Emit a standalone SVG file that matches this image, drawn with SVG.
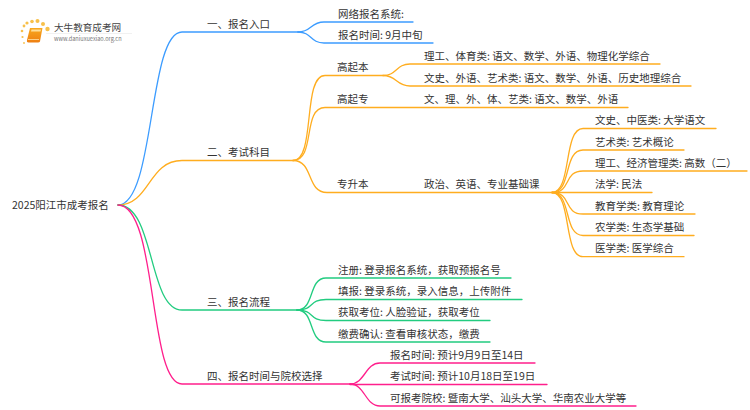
<svg xmlns="http://www.w3.org/2000/svg" width="750" height="410" viewBox="0 0 750 410">
<defs><linearGradient id="bk" x1="0" y1="0" x2="0" y2="1"><stop offset="0" stop-color="#f8a91f"/><stop offset="1" stop-color="#ee7f12"/></linearGradient></defs>
<style>
text{font-family:"Noto Sans CJK SC","Noto Sans",sans-serif;font-size:10.5px;fill:#333}
.c path{fill:none;stroke-width:1.3;stroke-linecap:round}
.b path{stroke:#3c9cff}.o path{stroke:#ffad1f}.g path{stroke:#22cc80}.p path{stroke:#ff1f8c}
</style>
<rect width="750" height="410" fill="#fff"/>
<g id="logo">
<g fill="#f7c04a"><circle cx="24" cy="26" r="1.4"/><circle cx="27" cy="23" r="1.6"/><circle cx="32" cy="21.500" r="1.800"/><circle cx="37.500" cy="21" r="2"/><circle cx="43" cy="24" r="2"/><circle cx="47.500" cy="29" r="2.200"/><circle cx="22" cy="31" r="1.300"/><circle cx="22.500" cy="37" r="1.100"/><circle cx="24" cy="43" r="0.900"/></g>
<path d="M30 28H42.500L40 41.500Q39.500 42.500 38 42.500H28.500Q26.500 42.500 27 40Z" fill="url(#bk)"/><path d="M31.500 29.500H41L40.500 31.500H31Z" fill="#ffdf9a"/><path d="M28 39.500H39" stroke="#ffe2a8" stroke-width="0.800"/>
<path d="M46 33.500H132" stroke="#e8e8e8" stroke-width="0.600"/>
<text x="54" y="30.500" style="font-size:9.600px;fill:#444">大牛教育成考网</text>
<text x="54" y="41" style="font-size:5.600px;fill:#777">www.daniuxuexiao.org.cn</text>
</g>
<g id="connectors" class="c">
<g class="b"><path d="M118 205C155 205 148 32 182 32H298"/><path d="M298 32C312 32 310 22 324 22H413"/><path d="M298 32C312 32 310 43 324 43H433"/></g>
<g class="o"><path d="M118 205C150 205 148 160.500 182 160.500H293"/><path d="M293 160.500C316 160.500 302 75.500 325 75.500H383"/><path d="M293 160.500C316 160.500 302 107.500 325 107.500H628"/><path d="M293 160.500C314 160.500 306 192.500 327 192.500H552"/><path d="M383 75.500C397 75.500 396 64 410 64H660"/><path d="M383 75.500C397 75.500 396 86 410 86H691"/>
<path d="M552 192.500C572 192.500 563 128.500 583 128.500H716"/><path d="M552 192.500C572 192.500 563 150 583 150H684"/><path d="M552 192.500C572 192.500 563 171 583 171H747"/><path d="M552 192.500H652"/><path d="M552 192.500C572 192.500 563 214 583 214H695"/><path d="M552 192.500C572 192.500 563 235.500 583 235.500H694"/><path d="M552 192.500C572 192.500 563 256.700 583 256.700H684"/></g>
<g class="g"><path d="M118 205C155 205 148 310 182 310H297"/><path d="M297 310C315 310 308 278 326 278H511"/><path d="M297 310C315 310 308 299.500 326 299.500H522"/><path d="M297 310C315 310 308 320.500 326 320.500H490"/><path d="M297 310C315 310 308 342 326 342H490"/></g>
<g class="p"><path d="M118 205C158 205 148 384 182 384H350"/><path d="M350 384C365 384 365 363 380 363H535"/><path d="M350 384.500H547"/><path d="M350 384C365 384 365 406 380 406H636"/></g>
</g>
<g id="root"><text x="12" y="209">2025阳江市成考报名</text></g>
<g id="n1"><text x="207" y="28">一、报名入口</text></g>
<g id="n1-1"><text x="338" y="18">网络报名系统:</text></g>
<g id="n1-2"><text x="338" y="39">报名时间: 9月中旬</text></g>
<g id="n2"><text x="207" y="156">二、考试科目</text></g>
<g id="n2-1"><text x="337" y="71">高起本</text></g>
<g id="n2-1-1"><text x="424" y="60">理工、体育类: 语文、数学、外语、物理化学综合</text></g>
<g id="n2-1-2"><text x="424" y="82">文史、外语、艺术类: 语文、数学、外语、历史地理综合</text></g>
<g id="n2-2"><text x="337" y="103">高起专</text></g>
<g id="n2-2-1"><text x="424" y="103">文、理、外、体、艺类: 语文、数学、外语</text></g>
<g id="n2-3"><text x="337" y="188">专升本</text></g>
<g id="n2-3-0"><text x="424" y="188">政治、英语、专业基础课</text></g>
<g id="n2-3-1"><text x="595" y="124">文史、中医类: 大学语文</text></g>
<g id="n2-3-2"><text x="595" y="146">艺术类: 艺术概论</text></g>
<g id="n2-3-3"><text x="595" y="167">理工、经济管理类: 高数（二）</text></g>
<g id="n2-3-4"><text x="595" y="188">法学: 民法</text></g>
<g id="n2-3-5"><text x="595" y="210">教育学类: 教育理论</text></g>
<g id="n2-3-6"><text x="595" y="231">农学类: 生态学基础</text></g>
<g id="n2-3-7"><text x="595" y="252">医学类: 医学综合</text></g>
<g id="n3"><text x="207" y="306">三、报名流程</text></g>
<g id="n3-1"><text x="338" y="274">注册: 登录报名系统，获取预报名号</text></g>
<g id="n3-2"><text x="338" y="295">填报: 登录系统，录入信息，上传附件</text></g>
<g id="n3-3"><text x="338" y="316">获取考位: 人脸验证，获取考位</text></g>
<g id="n3-4"><text x="338" y="338">缴费确认: 查看审核状态，缴费</text></g>
<g id="n4"><text x="207" y="380">四、报名时间与院校选择</text></g>
<g id="n4-1"><text x="390" y="359">报名时间: 预计9月9日至14日</text></g>
<g id="n4-2"><text x="390" y="380">考试时间: 预计10月18日至19日</text></g>
<g id="n4-3"><text x="390" y="402">可报考院校: 暨南大学、汕头大学、华南农业大学等</text></g>
</svg>
